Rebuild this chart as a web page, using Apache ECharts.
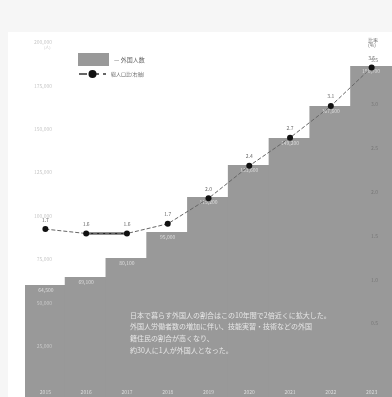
<!DOCTYPE html>
<html><head><meta charset="utf-8">
<script src="https://cdn.jsdelivr.net/npm/echarts@6/dist/echarts.min.js"></script>
<style>html,body{margin:0;padding:0;background:#f6f6f6;}#c{width:392px;height:397px;}</style>
</head><body><div id="c"></div>
<script>
const categories = ['2015','2016','2017','2018','2019','2020','2021','2022','2023'];
const foreignCount = [64500, 69100, 80100, 95000, 115200, 133600, 149200, 167600, 190700];
const ratio = [1.66, 1.61, 1.61, 1.72, 2.01, 2.38, 2.70, 3.06, 3.50];
const solidIdx = [1, 2];
const noteLines = [
  '日本で暮らす外国人の割合はこの10年間で2倍近くに拡大した。',
  '外国人労働者数の増加に伴い、技能実習・技術などの外国',
  '籍住民の割合が高くなり、',
  '約30人に1人が外国人となった。'
];
const barName = '外国人数';
const lineName = '総人口比(右軸)';

const FONT = '"Noto Sans CJK JP", "Noto Sans", sans-serif';
const chart = echarts.init(document.getElementById('c'), null, {renderer: 'canvas'});
const ratioSolid = ratio.map((v, i) => solidIdx.includes(i) ? v : '-');

chart.setOption({
  animation: false,
  textStyle: {fontFamily: FONT},
  graphic: [
    {type: 'rect', z: -10, silent: true, shape: {x: 8, y: 32, width: 384, height: 365}, style: {fill: '#ffffff'}},
    {type: 'text', left: 130, top: 309, z: 10, style: {text: noteLines.join('\n'), fill: '#e6e6e6', fontSize: 7, lineHeight: 11.7, fontFamily: FONT}},
    {type: 'text', left: 44, top: 45, style: {text: '(人)', fill: '#c8c8c8', fontSize: 4, fontFamily: FONT}},
    {type: 'text', right: 14, top: 38, z: 10, style: {text: '比率\n(%)', fill: '#666', fontSize: 5, lineHeight: 5, align: 'right', fontFamily: FONT}}
  ],
  legend: [
    {data: [{name: barName, icon: 'rect'}], left: 73, top: 48, itemWidth: 31, itemHeight: 13, itemGap: 0,
     formatter: '— {name}', textStyle: {fontSize: 6, color: '#666', fontFamily: FONT}},
    {data: [lineName], left: 73, top: 65, itemWidth: 27, itemHeight: 10, itemGap: 0,
     textStyle: {fontSize: 5, color: '#666', fontFamily: FONT}}
  ],
  grid: {left: 25, right: 0, top: 49.8, bottom: 0},
  xAxis: {
    type: 'category', data: categories, boundaryGap: true,
    axisLine: {show: false}, axisTick: {show: false}, splitLine: {show: false}, splitArea: {show: false},
    axisLabel: {inside: true, margin: 2, fontSize: 5, color: '#dddddd'},
    z: 10
  },
  yAxis: [
    {type: 'value', min: 0, max: 200000, interval: 25000,
     axisLine: {show: false}, axisTick: {show: false}, splitLine: {show: false},
     axisLabel: {inside: true, align: 'right', margin: 27, fontSize: 5, color: '#c8c8c8',
       verticalAlign: 'bottom', padding: [0, 0, 5, 0], showMinLabel: false,
       formatter: v => v.toLocaleString('en-US')}, z: 10},
    {type: 'value', position: 'right', min: -0.25, max: 3.7, interval: 0.25,
     axisLine: {show: false}, axisTick: {show: false}, splitLine: {show: false},
     axisLabel: {inside: true, align: 'right', margin: 14, fontSize: 5, color: '#777',
       verticalAlign: 'bottom', padding: [0, 0, 5, 0], showMaxLabel: false,
       formatter: v => {const d = v * 2; return (v > 0.01 && Math.abs(d - Math.round(d)) < 1e-6) ? v.toFixed(1) : '';}}, z: 10}
  ],
  series: [
    {name: barName, type: 'bar', data: foreignCount, barWidth: '105%', barGap: '-100%',
     itemStyle: {color: '#999999', borderWidth: 0},
     label: {show: true, position: 'insideTop', distance: 3, fontSize: 5, color: '#dddddd',
       formatter: p => p.value.toLocaleString('en-US')}},
    {name: lineName, type: 'line', yAxisIndex: 1, data: ratio, z: 5,
     symbol: 'circle', symbolSize: 6, itemStyle: {color: '#111'},
     lineStyle: {type: 'dashed', width: 1, color: '#666'},
     label: {show: true, position: 'top', distance: 4, fontSize: 5, color: '#666',
       formatter: p => p.value.toFixed(1)}},
    {name: 'solid', type: 'line', yAxisIndex: 1, data: ratioSolid, z: 4, silent: true,
     symbol: 'none', lineStyle: {type: 'solid', width: 2, color: '#222'}}
  ]
});
</script>
</body></html>
